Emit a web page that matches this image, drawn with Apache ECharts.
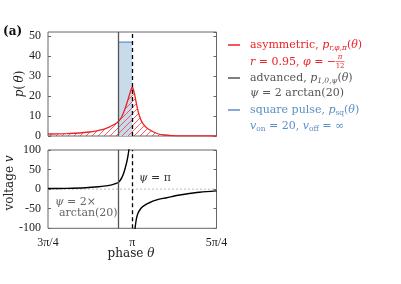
<!DOCTYPE html>
<html><head><meta charset="utf-8">
<script src="https://cdn.jsdelivr.net/npm/echarts@6/dist/echarts.min.js"></script>
<style>html,body{margin:0;padding:0;background:#fff}#c{width:401px;height:284px}</style>
</head><body><div id="c"></div>
<script>
// ---- data (theta in degrees: 135 = 3π/4, 180 = π, 225 = 5π/4) ----
var xTickValues = [135, 180, 225];
var xTickLabels = ['3π/4', 'π', '5π/4'];
var pTicks = [0, 10, 20, 30, 40, 50];
var vTicks = [-100, -50, 0, 50, 100];

var thetaRed = [135,145,152,157,161,164,166,168,170,171.5,172.5,173.5,174.5,175.5,176.5,177.5,178.5,179.3,180,180.7,181.5,182.3,183.2,184,185,186,187.5,189.5,191.5,194,197,201,207,215,225];
var pRed     = [1.0,1.2,1.5,2.0,2.6,3.2,3.8,4.6,5.6,6.4,7.2,8.3,9.9,12.0,14.6,17.5,20.6,23.0,24.5,23.0,19.7,15.8,12.2,9.6,7.3,5.8,4.3,3.0,2.0,1.0,0.5,0.2,0.1,0.03,0];

var psiAdvanced = 172.5;   // solid gray line
var psiPi = 180;           // dashed line
var squareTheta = [172.5, 180];
var squareP = [46.9, 46.9];

var thetaVLeft = [135,145,155,162,166,169,171,172.5,173.5,174.5,175.5,176.3,177,177.6,178.2,178.8];
var vLeft      = [1.5,2,3.5,6,8.5,11,14,17,22,30,42,55,68,82,100,125];
var thetaVRight = [181.2,181.5,182,182.4,183,184.2,185.5,187,189,191.3,194,198.4,203,208,216,225];
var vRight      = [-115,-100,-82,-72,-62,-52,-45,-40,-35,-30,-26,-22,-17,-13,-8,-4.5];

function pairs(xs, ys){ return xs.map(function(x,i){return [x, ys[i]];}); }

var RED = '#ec2227', GRAY = '#555555', BLUE = '#5b8fc9', FILL = '#c9dbeb';
var FONT = 'Liberation Serif';
var LFONT = 'DejaVu Serif';

// hatch pattern
var hc = document.createElement('canvas');
hc.width = 6; hc.height = 6;
var g = hc.getContext('2d');
g.strokeStyle = RED; g.lineWidth = 0.7;
g.beginPath();
g.moveTo(0,6); g.lineTo(6,0);
g.moveTo(-3,3); g.lineTo(3,-3);
g.moveTo(3,9); g.lineTo(9,3);
g.stroke();

// measure legend text for placing the stacked fraction
var mc = document.createElement('canvas').getContext('2d');
function w(t, style){ mc.font = (style||'') + ' 11px "' + LFONT + '"'; return mc.measureText(t).width; }
var fracX = 250 + w('r', 'italic') + w(' = 0.95, ') + w('φ', 'italic') + w(' = −') + 4;

var chart = echarts.init(document.getElementById('c'), null, {renderer:'canvas'});
var labelMap = {}; xTickValues.forEach(function(v,i){ labelMap[v] = xTickLabels[i]; });

var gridCommon = {show:true, borderColor:'#666', borderWidth:1, backgroundColor:'transparent'};
function xAx(idx, showLabels){
  return {type:'value', gridIndex:idx, min:135, max:225, interval:45,
    axisLine:{show:false}, splitLine:{show:false}, axisTick:{show:false},
    axisLabel:{show:showLabels, margin:9, fontFamily:FONT, fontSize:12, color:'#222',
      formatter:function(v){return labelMap[v] || '';}}};
}
function yAx(idx, min, max, interval, pos, showLabels){
  return {type:'value', gridIndex:idx, min:min, max:max, interval:interval, position:pos,
    axisLine:{show:false}, splitLine:{show:false},
    axisTick:{show:true, inside:true, length:3, lineStyle:{color:'#666'}},
    axisLabel:{show:showLabels, showMaxLabel: (max===100), margin:7, fontFamily:FONT, fontSize:12, color:'#222',
      formatter:function(v){ return String(v); }}};
}
function vline(xi, yi, x, color, type){
  return {type:'line', xAxisIndex:xi, yAxisIndex:yi, data:[], silent:true, z:5,
    markLine:{symbol:'none', silent:true, animation:false, label:{show:false},
      lineStyle:{color:color, width:1.3, type:type}, data:[{xAxis:x}]}};
}
var ital = {fontStyle:'italic', fontSize:11, fontFamily:LFONT};
var sub = {fontStyle:'italic', fontSize:7.5, fontFamily:LFONT, padding:[6,0,0,0]};
var subR = {fontSize:7.5, fontFamily:LFONT, padding:[6,0,0,0]};

chart.setOption({
  animation:false,
  grid:[
    Object.assign({left:48, top:32, width:168.5, height:104}, gridCommon),
    Object.assign({left:48, top:150, width:168.5, height:78.3}, gridCommon)
  ],
  xAxis:[xAx(0,false), xAx(1,true)],
  yAxis:[yAx(0,0,52,10,'left',true), yAx(1,-100,100,50,'left',true),
         yAx(0,0,52,10,'right',false), yAx(1,-100,100,50,'right',false)],
  series:[
    {type:'line', xAxisIndex:0, yAxisIndex:0, data:pairs(squareTheta, squareP), symbol:'none', z:1,
      lineStyle:{color:BLUE, width:1.3}, areaStyle:{color:FILL, opacity:1}},
    {type:'line', xAxisIndex:0, yAxisIndex:0, data:pairs(thetaRed, pRed), symbol:'none', z:3, smooth:0.2,
      lineStyle:{color:RED, width:1.3}, areaStyle:{color:{image:hc, repeat:'repeat'}, opacity:1}},
    vline(0,0,psiAdvanced,GRAY,'solid'),
    vline(0,0,psiPi,'#000',[4,3]),
    {type:'line', xAxisIndex:1, yAxisIndex:1, data:[[135,0],[225,0]], symbol:'none', z:1,
      lineStyle:{color:'#aaa', width:0.8, type:[2,2]}},
    {type:'line', xAxisIndex:1, yAxisIndex:1, data:pairs(thetaVLeft, vLeft), symbol:'none', z:4, smooth:0.3,
      lineStyle:{color:'#000', width:1.4}},
    {type:'line', xAxisIndex:1, yAxisIndex:1, data:pairs(thetaVRight, vRight), symbol:'none', z:4, smooth:0.3,
      lineStyle:{color:'#000', width:1.4}},
    vline(1,1,psiAdvanced,GRAY,'solid'),
    vline(1,1,psiPi,'#000',[4,3])
  ],
  graphic:[
    {type:'text', left:3, top:26, style:{text:'(a)', font:'bold 12px "'+LFONT+'"', fill:'#111'}},
    {type:'text', x:20, y:84, rotation:Math.PI/2, style:{text:'{i|p}(\u2009{i|θ})', font:'12px "'+LFONT+'"', fill:'#222',
      align:'center', verticalAlign:'middle', rich:{i:{fontStyle:'italic', fontSize:12, fontFamily:LFONT}}}},
    {type:'text', x:10, y:183, rotation:Math.PI/2, style:{text:'voltage {i|v}', font:'12px "'+LFONT+'"', fill:'#222',
      align:'center', verticalAlign:'middle', rich:{i:{fontStyle:'italic', fontSize:12, fontFamily:LFONT}}}},
    {type:'text', x:131, y:254, style:{text:'phase {i|θ}', font:'12px "'+LFONT+'"', fill:'#222',
      align:'center', verticalAlign:'middle', rich:{i:{fontStyle:'italic', fontSize:12, fontFamily:LFONT}}}},
    {type:'text', x:139, y:178, style:{text:'{i|ψ} = π', font:'11px "'+LFONT+'"', fill:'#333', verticalAlign:'middle',
      rich:{i:ital}}},
    {type:'text', x:55, y:202, style:{text:'{i|ψ} = 2×', font:'11px "'+LFONT+'"', fill:'#666', verticalAlign:'middle',
      rich:{i:ital}}},
    {type:'text', x:59, y:213, style:{text:'arctan(20)', font:'11px "'+LFONT+'"', fill:'#666', verticalAlign:'middle'}},
    // legend
    {type:'line', shape:{x1:228, y1:45, x2:240, y2:45}, style:{stroke:RED, lineWidth:1.5}},
    {type:'line', shape:{x1:228, y1:78, x2:240, y2:78}, style:{stroke:GRAY, lineWidth:1.5}},
    {type:'line', shape:{x1:228, y1:110, x2:240, y2:110}, style:{stroke:BLUE, lineWidth:1.5}},
    {type:'text', x:250, y:45, style:{text:'asymmetric, {i|p}{s|r,φ,π}({i|θ})', font:'11px "'+LFONT+'"', fill:RED, verticalAlign:'middle',
      rich:{i:ital, s:sub}}},
    {type:'text', x:250, y:62, style:{text:'{i|r} = 0.95, {i|φ} = −', font:'11px "'+LFONT+'"', fill:RED, verticalAlign:'middle',
      rich:{i:ital}}},
    {type:'text', x:fracX, y:57.5, style:{text:'π', font:'italic 7px "'+LFONT+'"', fill:RED, align:'center', verticalAlign:'middle'}},
    {type:'line', shape:{x1:fracX-4.5, y1:61.5, x2:fracX+4.5, y2:61.5}, style:{stroke:RED, lineWidth:0.6}},
    {type:'text', x:fracX, y:66, style:{text:'12', font:'7px "'+LFONT+'"', fill:RED, align:'center', verticalAlign:'middle'}},
    {type:'text', x:250, y:78, style:{text:'advanced, {i|p}{s|1,0,ψ}({i|θ})', font:'11px "'+LFONT+'"', fill:GRAY, verticalAlign:'middle',
      rich:{i:ital, s:sub}}},
    {type:'text', x:250, y:93, style:{text:'{i|ψ} = 2 arctan(20)', font:'11px "'+LFONT+'"', fill:GRAY, verticalAlign:'middle',
      rich:{i:ital}}},
    {type:'text', x:250, y:110, style:{text:'square pulse, {i|p}{s|sq}({i|θ})', font:'11px "'+LFONT+'"', fill:BLUE, verticalAlign:'middle',
      rich:{i:ital, s:subR}}},
    {type:'text', x:250, y:126, style:{text:'{i|v}{s|on} = 20, {i|v}{s|off} = ∞', font:'11px "'+LFONT+'"', fill:BLUE, verticalAlign:'middle',
      rich:{i:ital, s:subR}}}
  ]
});
</script></body></html>
